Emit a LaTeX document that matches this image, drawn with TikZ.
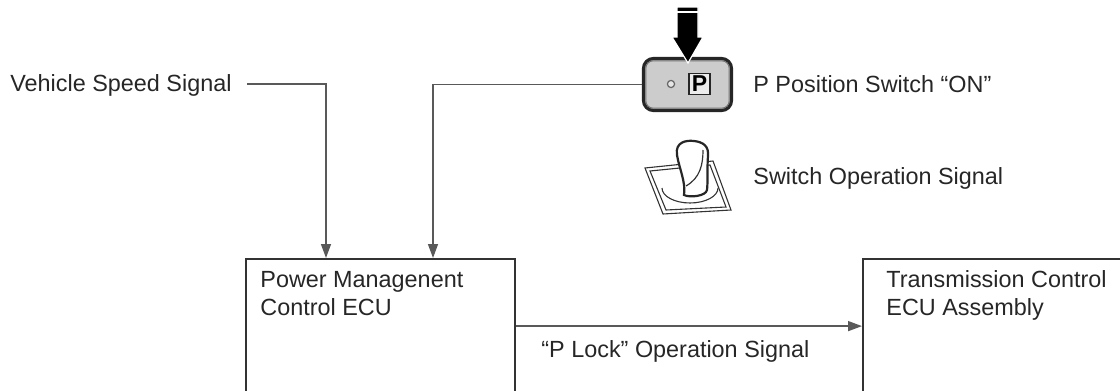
\documentclass[tikz,border=0pt]{standalone}
\usepackage{fontspec}
\setmainfont{Liberation Sans}
\usetikzlibrary{arrows.meta}
\begin{document}
\begin{tikzpicture}[x=0.5pt,y=-0.5pt,
  font=\fontsize{11.7}{14}\selectfont,
  lbl/.style={inner sep=0pt, anchor=west, text=black!85, text height=0.716em, text depth=0pt},
  boxlbl/.style={inner sep=0pt, anchor=north west, align=left, text=black!85},
  ecubox/.style={draw=black!80, line width=1.1pt, anchor=north west, minimum height=67pt, inner sep=0pt},
  sig/.style={draw=black!65, line width=0.75pt},
  arr/.style={sig, -{Triangle[length=7pt,width=5pt]}},
  lever/.style={draw=black!80, line width=0.55pt},
]
\useasboundingbox (0,0) rectangle (1120,391);
\clip (0,0) rectangle (1120,391);

% ECU boxes
\node[ecubox, minimum width=134.5pt] (pm) at (245,258) {};
\node[ecubox, minimum width=150pt] (tc) at (862,258) {};
\node[boxlbl] (pmtxt) at (260,270.5) {Power Managenent\\Control ECU};
\node[boxlbl] (tctxt) at (886,270.5) {Transmission Control\\ECU Assembly};

% P position switch
\node[draw=black!85, line width=1.6pt, fill=gray!40, rounded corners=5pt,
      minimum width=44pt, minimum height=26pt, inner sep=0pt] (psw) at (687.5,84.5) {};
\draw[black!55, line width=0.5pt, rounded corners=3.5pt]
  ([shift={(4,4)}]psw.north west) rectangle ([shift={(-4,-4)}]psw.south east);
\node[circle, draw=black!60, fill=gray!20, line width=0.6pt, minimum size=3.6pt, inner sep=0pt] (led) at (671,84) {};
\node[draw=black!85, fill=gray!15, line width=0.9pt, minimum size=10.5pt, inner sep=0pt,
      font=\fontsize{11.5}{12}\selectfont\bfseries] (pkey) at (699.5,84) {P};

% push arrow
\draw[fill=black, draw=white, line width=0.6pt]
  (677,7) -- (698,7) -- (698,37) -- (703,37) -- (688,63) -- (672,37) -- (677,37) -- cycle;
\draw[white, line width=0.7pt] (677,12) -- (698,12);

% shift lever with its base plate
\draw[lever] (645,168) -- (713,161) -- (731,210) -- (663,214) -- cycle;
\draw[lever] (650,171) -- (710,165) -- (726,207) -- (666,210) -- cycle;
\draw[lever] (662,188) arc[start angle=180, end angle=0, x radius=28, y radius=15];
\draw[draw=black!85, line width=1.1pt, fill=white]
  (684,195) .. controls (686,182) and (679,168) .. (677,155)
  .. controls (675,142) and (686,140) .. (694,141)
  .. controls (703,142) and (709,146) .. (708,156)
  .. controls (707,168) and (708,182) .. (707,190)
  .. controls (706,196) and (690,198) .. (684,195) -- cycle;
\draw[draw=black!80, line width=0.6pt] (703,150) .. controls (703,165) and (700,178) .. (686,186);

% labels
\node[lbl] (vss) at (10,84) {Vehicle Speed Signal};
\node[lbl] (psl) at (753,85) {P Position Switch “ON”};
\node[lbl] (sos) at (753,177) {Switch Operation Signal};
\node[lbl] (plk) at (541,350) {“P Lock” Operation Signal};

% signal lines
\draw[arr] ([xshift=7.5pt]vss.east) -| ([xshift=40.5pt]pm.north west);
\draw[arr] (psw.west) -| ([xshift=94pt]pm.north west);
\draw[arr] (pm.east) -- (tc.west);
\end{tikzpicture}
\end{document}
